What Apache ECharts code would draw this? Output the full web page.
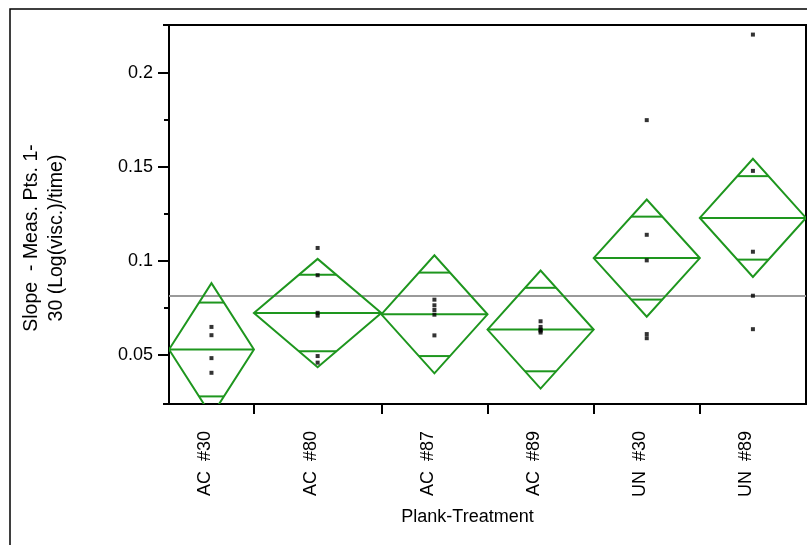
<!DOCTYPE html>
<html>
<head>
<meta charset="utf-8">
<script src="https://cdn.jsdelivr.net/npm/echarts@6/dist/echarts.min.js"></script>
<style>
html,body{margin:0;padding:0;background:#fff;}
#chart{width:807px;height:545px;}
</style>
</head>
<body>
<div id="chart"></div>
<script>
// ---- data ----
var categories = ['AC  #30', 'AC  #80', 'AC  #87', 'AC  #89', 'UN  #30', 'UN  #89'];
var counts = [4, 6, 5, 5, 5, 5];
var means = [0.053, 0.0724, 0.0717, 0.0636, 0.1016, 0.123];
var ciHalf = [0.0353, 0.0288, 0.0314, 0.0314, 0.0312, 0.0314];
var ptsAC30 = [0.065, 0.0606, 0.0484, 0.0406];
var ptsAC80 = [0.107, 0.0925, 0.0725, 0.071, 0.0495, 0.046];
var ptsAC87 = [0.0795, 0.0765, 0.074, 0.0715, 0.0605];
var ptsAC89 = [0.068, 0.065, 0.0635, 0.063, 0.062];
var ptsUN30 = [0.175, 0.114, 0.1004, 0.0612, 0.059];
var ptsUN89 = [0.2205, 0.148, 0.105, 0.0816, 0.0638];
var grandMean = 0.0815;
var yTicks = [0.05, 0.1, 0.15, 0.2];
var yMinorTicks = [0.075, 0.125, 0.175];
var yMin = 0.024, yMax = 0.2256;

var groups = [ptsAC30, ptsAC80, ptsAC87, ptsAC89, ptsUN30, ptsUN89];

// ---- derived ----
var starts = [], ends = [], centers = [];
var acc = 0;
counts.forEach(function (n) { starts.push(acc); acc += n; ends.push(acc); centers.push(acc - n / 2); });
var total = acc;
var boundaries = ends.slice(0, ends.length - 1);

var diamondData = categories.map(function (c, i) { return [starts[i], ends[i], means[i], ciHalf[i]]; });
var pointData = [];
groups.forEach(function (g, i) { g.forEach(function (v) { pointData.push([centers[i], v]); }); });

var GREEN = '#1e961e';
var FONT = 'Liberation Sans, Arial, sans-serif';

var chart = echarts.init(document.getElementById('chart'), null, {renderer: 'canvas'});
chart.setOption({
  animation: false,
  backgroundColor: '#fff',
  grid: {left: 169, right: 1, top: 25, bottom: 141, show: true, borderColor: '#000', borderWidth: 2, backgroundColor: 'transparent'},
  xAxis: {
    type: 'value', min: 0, max: total,
    axisLine: {show: true, lineStyle: {color: '#000', width: 2}},
    axisTick: {show: true, customValues: boundaries, length: 10, lineStyle: {color: '#000', width: 2}},
    axisLabel: {
      show: true, customValues: centers, rotate: 90, margin: 27,
      verticalAlign: 'bottom', lineHeight: 13,
      fontSize: 18, fontFamily: FONT, color: '#000',
      formatter: function (v) {
        for (var i = 0; i < centers.length; i++) { if (Math.abs(centers[i] - v) < 1e-9) return categories[i]; }
        return '';
      }
    },
    splitLine: {show: false}
  },
  yAxis: [{
    type: 'value', min: yMin, max: yMax, position: 'left',
    axisLine: {show: true, lineStyle: {color: '#000', width: 2}},
    axisTick: {show: true, customValues: yTicks, length: 11, lineStyle: {color: '#000', width: 2}},
    axisLabel: {show: true, customValues: yTicks, margin: 16, fontSize: 18, fontFamily: FONT, color: '#000'},
    splitLine: {show: false}
  }, {
    type: 'value', min: yMin, max: yMax, position: 'left',
    axisLine: {show: false},
    axisTick: {show: true, customValues: yMinorTicks, length: 5, lineStyle: {color: '#000', width: 2}},
    axisLabel: {show: false},
    splitLine: {show: false}
  }, {
    type: 'value', min: yMin, max: yMax, position: 'left',
    axisLine: {show: false},
    axisTick: {show: true, customValues: [yMin, yMax], length: 6, lineStyle: {color: '#000', width: 2}},
    axisLabel: {show: false},
    splitLine: {show: false}
  }],
  series: [{
    type: 'line', data: [[0, grandMean], [total, grandMean]], symbol: 'none',
    lineStyle: {color: '#9a9a9a', width: 2}, z: 1, silent: true
  }, {
    type: 'custom', data: diamondData, clip: true, z: 2, silent: true,
    renderItem: function (params, api) {
      var s = api.value(0), e = api.value(1), m = api.value(2), h = api.value(3);
      var c = (s + e) / 2;
      var L = api.coord([s, m]), R = api.coord([e, m]);
      var T = api.coord([c, m + h]), B = api.coord([c, m - h]);
      var d = h / Math.SQRT2;
      var hw = (R[0] - L[0]) / 2 * (1 - d / h);
      var U = api.coord([c, m + d]), D = api.coord([c, m - d]);
      var st = {stroke: GREEN, lineWidth: 2, fill: null};
      return {type: 'group', children: [
        {type: 'polygon', shape: {points: [L, T, R, B]}, style: st},
        {type: 'line', shape: {x1: L[0], y1: L[1], x2: R[0], y2: R[1]}, style: st},
        {type: 'line', shape: {x1: U[0] - hw, y1: U[1], x2: U[0] + hw, y2: U[1]}, style: st},
        {type: 'line', shape: {x1: D[0] - hw, y1: D[1], x2: D[0] + hw, y2: D[1]}, style: st}
      ]};
    }
  }, {
    type: 'scatter', data: pointData, symbol: 'rect', symbolSize: 4,
    itemStyle: {color: '#000'}, z: 3, silent: true
  }],
  graphic: [
    {type: 'rect', shape: {x: 10, y: 9, width: 820, height: 560}, style: {stroke: '#000', lineWidth: 1.5, fill: null}, silent: true},
    {type: 'text', x: 467.5, y: 516.8, style: {text: 'Plank-Treatment', font: '18px ' + FONT, fill: '#000', textAlign: 'center', textVerticalAlign: 'middle'}},
    {type: 'text', x: 44, y: 238, rotation: Math.PI / 2,
     style: {text: 'Slope  - Meas. Pts. 1-\n30 (Log(visc.)/time)', font: '19.5px ' + FONT, lineHeight: 25, fill: '#000', textAlign: 'center', textVerticalAlign: 'middle'}}
  ]
});
</script>
</body>
</html>
